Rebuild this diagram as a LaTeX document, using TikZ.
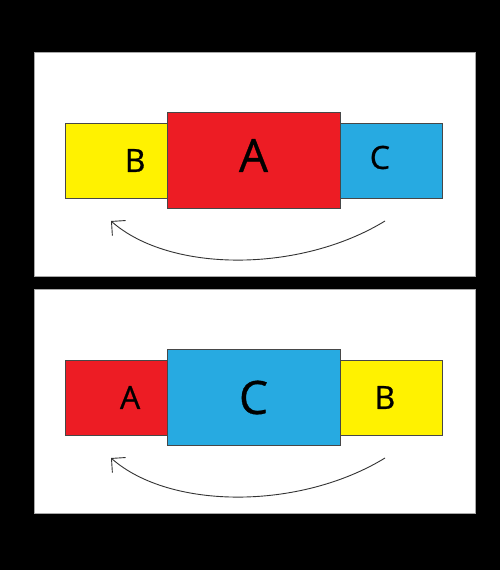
\documentclass[tikz,border=0pt]{standalone}
\usepackage{fontspec}
\setmainfont{Open Sans}
\newfontfamily\lblfont{Open Sans}[FakeBold=0.7]
\usetikzlibrary{arrows.meta,positioning}
\definecolor{boxA}{HTML}{ED1C24}
\definecolor{boxB}{HTML}{FFF200}
\definecolor{boxC}{HTML}{27AAE1}
\definecolor{edge}{HTML}{474747}
\definecolor{frame}{HTML}{A8A8A8}
\definecolor{swing}{HTML}{333333}

\begin{document}
\begin{tikzpicture}[x=1pt,y=-1pt,
  box/.style={draw=edge, line width=0.8pt, inner sep=0pt, minimum width=102pt, minimum height=75pt},
  bigbox/.style={box, minimum width=173pt, minimum height=96pt},
  small/.style={font=\lblfont\fontsize{32}{32}\selectfont, inner sep=0pt},
  large/.style={font=\lblfont\fontsize{46}{46}\selectfont, inner sep=0pt}]
  \fill[black] (0,0) rectangle (500,570);
  \useasboundingbox (0,0) rectangle (500,570);
  \foreach \i/\dy/\l/\m/\r/\xl/\xr/\um/\ur in {1/0/B/A/C/19/-11/5/3, 2/237/A/C/B/14/-6/0/0} {
    \draw[frame, line width=0.8pt, fill=white] (34,52+\dy) rectangle (475,276+\dy);
    \coordinate (c\i) at (253.5,160.5+\dy);
    \node[box, fill=box\l, left=86pt of c\i] (left\i) {};
    \node[box, fill=box\r, right=86pt of c\i] (right\i) {};
    \node[bigbox, fill=box\m] (mid\i) at (c\i) {};
    \node[small, xshift=\xl pt] (lbl\l\i) at (left\i) {\l};
    \node[large, yshift=\um pt] (lbl\m\i) at (mid\i) {\m};
    \node[small, xshift=\xr pt, yshift=\ur pt] (lbl\r\i) at (right\i) {\r};
    % the swing arrow below the row
    \coordinate (from\i) at (385,221+\dy);
    \coordinate (to\i) at (111,221+\dy);
    \draw[swing, line width=0.9pt, -{Straight Barb[length=10pt,width=20pt,line width=0.9pt]}]
      (from\i) .. controls +(-85,52) and +(59,52) .. (to\i);
  }
\end{tikzpicture}
\end{document}
